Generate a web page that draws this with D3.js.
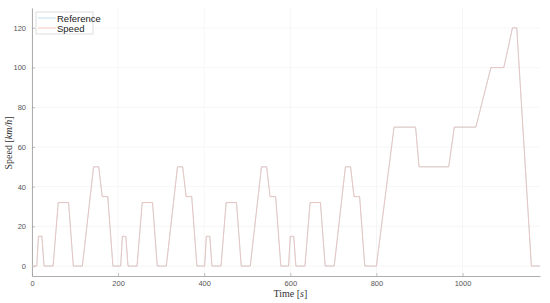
<!DOCTYPE html>
<html>
<head>
<meta charset="utf-8">
<script src="https://cdn.jsdelivr.net/npm/d3@7"></script>
<style>
body { margin: 0; background: #fff; }
svg { display: block; }
.tick text { font-family: "Liberation Sans", Arial, sans-serif; font-size: 7.5px; fill: #555; }
</style>
</head>
<body>
<script>
// NEDC reference profile: time [s] and speed [km/h]
const refTime = [
  0, 11, 15, 23, 28, 49, 61, 85, 96, 117, 143, 155, 163, 176, 188,
  195, 206, 210, 218, 223, 244, 256, 280, 291, 312, 338, 350, 358, 371, 383,
  390, 401, 405, 413, 418, 439, 451, 475, 486, 507, 533, 545, 553, 566, 578,
  585, 596, 600, 608, 613, 634, 646, 670, 681, 702, 728, 740, 748, 761, 773,
  780, 800, 841, 891, 899, 968, 981, 1031, 1066, 1096, 1116, 1126, 1160, 1180
];
const refSpeed = [
  0, 0, 15, 15, 0, 0, 32, 32, 0, 0, 50, 50, 35, 35, 0,
  0, 0, 15, 15, 0, 0, 32, 32, 0, 0, 50, 50, 35, 35, 0,
  0, 0, 15, 15, 0, 0, 32, 32, 0, 0, 50, 50, 35, 35, 0,
  0, 0, 15, 15, 0, 0, 32, 32, 0, 0, 50, 50, 35, 35, 0,
  0, 0, 70, 70, 50, 50, 70, 70, 100, 100, 120, 120, 0, 0
];
// measured speed follows the reference
const measSpeed = [
  0, 0, 15, 15, 0, 0, 32, 32, 0, 0, 50, 50, 35, 35, 0,
  0, 0, 15, 15, 0, 0, 32, 32, 0, 0, 50, 50, 35, 35, 0,
  0, 0, 15, 15, 0, 0, 32, 32, 0, 0, 50, 50, 35, 35, 0,
  0, 0, 15, 15, 0, 0, 32, 32, 0, 0, 50, 50, 35, 35, 0,
  0, 0, 70, 70, 50, 50, 70, 70, 100, 100, 120, 120, 0, 0
];
const xTicks = [0, 200, 400, 600, 800, 1000];
const yTicks = [0, 20, 40, 60, 80, 100, 120];
const seriesNames = ["Reference", "Speed"];
const seriesColors = ["#b3d6ea", "#f3b9ab"];

const width = 550, height = 303;
const margin = {left: 32, right: 10, top: 8, bottom: 27};

const svg = d3.select("body").append("svg")
  .attr("width", width)
  .attr("height", height);

const x = d3.scaleLinear().domain([0, 1180]).range([margin.left, width - margin.right]);
const y = d3.scaleLinear().domain([-5, 130]).range([height - margin.bottom, margin.top]);

// grid
svg.append("g").selectAll("line.gx")
  .data(xTicks).enter().append("line")
  .attr("x1", d => x(d)).attr("x2", d => x(d))
  .attr("y1", y(-5)).attr("y2", y(130))
  .attr("stroke", "#f2f2f2").attr("stroke-width", 0.7);
svg.append("g").selectAll("line.gy")
  .data(yTicks).enter().append("line")
  .attr("x1", x(0)).attr("x2", x(1180))
  .attr("y1", d => y(d)).attr("y2", d => y(d))
  .attr("stroke", "#f2f2f2").attr("stroke-width", 0.7);

// axes, ticks inside like matlab
const xAxis = svg.append("g")
  .attr("transform", "translate(0," + y(-5) + ")")
  .call(d3.axisBottom(x).tickValues(xTicks).tickFormat(d3.format("d"))
    .tickSizeInner(-3).tickSizeOuter(0).tickPadding(5));
const yAxis = svg.append("g")
  .attr("transform", "translate(" + x(0) + ",0)")
  .call(d3.axisLeft(y).tickValues(yTicks).tickSizeInner(-3).tickSizeOuter(0).tickPadding(6));
[xAxis, yAxis].forEach(a => {
  a.select(".domain").attr("stroke", "#999").attr("stroke-width", 0.8);
  a.selectAll(".tick line").attr("stroke", "#999").attr("stroke-width", 0.6);
});

// lines
const line = d3.line()
  .x((d, i) => x(refTime[i]))
  .y(d => y(d));
svg.append("path").datum(refSpeed)
  .attr("fill", "none").attr("stroke", seriesColors[0]).attr("stroke-width", 0.7)
  .attr("d", line);
svg.append("path").datum(measSpeed)
  .attr("fill", "none").attr("stroke", seriesColors[1]).attr("stroke-width", 0.7)
  .attr("d", line);

// axis labels
const xl = svg.append("text")
  .attr("x", x(600)).attr("y", 297)
  .attr("text-anchor", "middle")
  .attr("font-family", "Liberation Serif, serif").attr("font-size", 10).attr("fill", "#333");
xl.append("tspan").text("Time [");
xl.append("tspan").attr("font-style", "italic").text("s");
xl.append("tspan").text("]");

const yl = svg.append("text")
  .attr("transform", "translate(12," + y(62) + ") rotate(-90)")
  .attr("text-anchor", "middle")
  .attr("font-family", "Liberation Serif, serif").attr("font-size", 10).attr("fill", "#333");
yl.append("tspan").text("Speed [");
yl.append("tspan").attr("font-style", "italic").text("km/h");
yl.append("tspan").text("]");

// legend
const lg = svg.append("g").attr("transform", "translate(36,12)");
lg.append("rect").attr("width", 57).attr("height", 22)
  .attr("fill", "#fff").attr("stroke", "#cfcfcf").attr("stroke-width", 0.7);
seriesNames.forEach((n, i) => {
  lg.append("line").attr("x1", 2).attr("x2", 20)
    .attr("y1", 6 + i * 10).attr("y2", 6 + i * 10)
    .attr("stroke", seriesColors[i]).attr("stroke-width", 0.8);
  lg.append("text").attr("x", 21).attr("y", 9.5 + i * 10)
    .attr("font-family", "Liberation Sans, Arial, sans-serif").attr("font-size", 9.5)
    .attr("fill", "#222").text(n);
});
</script>
</body>
</html>
